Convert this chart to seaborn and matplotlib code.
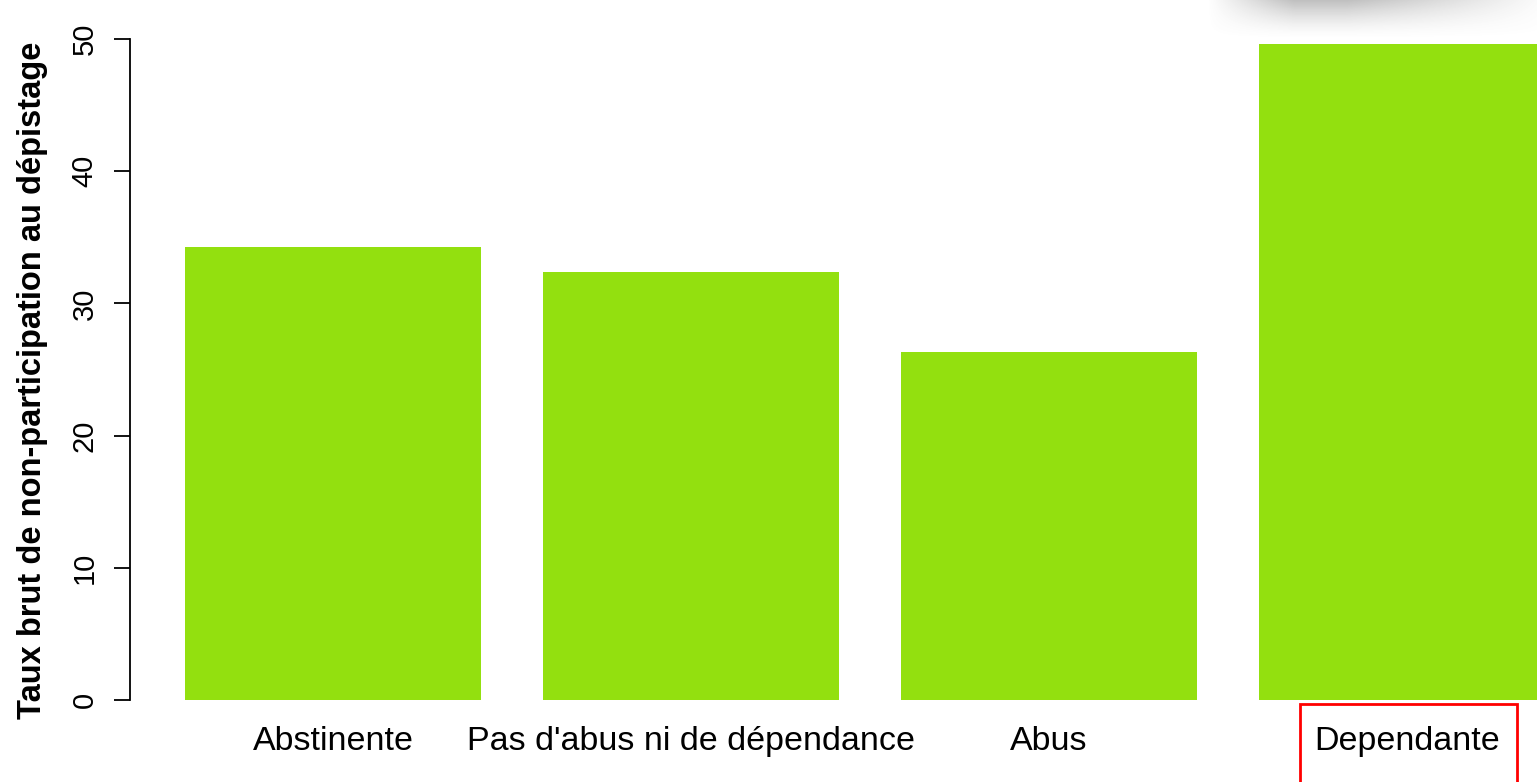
import numpy as np
import pandas as pd
import matplotlib
matplotlib.use("Agg")
import matplotlib.pyplot as plt
from matplotlib.patches import Rectangle
import seaborn as sns

categories = ["Abstinente", "Pas d'abus ni de dépendance", "Abus", "Dependante"]
values = [34.3, 32.4, 26.3, 49.6]
yticks = [0, 10, 20, 30, 40, 50]
title = "Consommation d'alcool"
ylabel = "Taux brut de non-participation au dépistage"

sns.set_theme(style="white")
plt.rcParams['font.family'] = ['Liberation Sans', 'DejaVu Sans']

W, H = 1537, 782
fig = plt.figure(figsize=(W / 100, H / 100), dpi=100)
fig.patch.set_facecolor("white")

# axes: left at x=130px, right at figure edge; bottom at y=700px (value 0), top at figure top
ax_left = 130 / W
ax_bottom = (H - 700) / H
ax = fig.add_axes([ax_left, ax_bottom, 1 - ax_left, 1 - ax_bottom])
ax.set_facecolor("none")

df = pd.DataFrame({"cat": categories, "val": values})
sns.barplot(data=df, x="cat", y="val", color="#93E00F", saturation=1,
            width=0.827, ax=ax, edgecolor="none")

px_per_unit = 661 / 50.0
ax.set_ylim(0, 700 / px_per_unit)
ax.set_xlim(-203 / 358, (1537 - 333) / 358)

for s in ["top", "right", "bottom"]:
    ax.spines[s].set_visible(False)
ax.spines["left"].set_bounds(0, 50)
ax.spines["left"].set_linewidth(1.3)
ax.spines["left"].set_color("black")
ax.set_yticks(yticks)
ax.set_yticklabels([str(t) for t in yticks], rotation=90, va="center", fontsize=21)
ax.tick_params(axis="y", direction="out", length=11.5, width=1.3, color="black",
               left=True, pad=11, labelcolor="black")
ax.tick_params(axis="x", bottom=False, labelsize=24.5, pad=13, labelcolor="black")
ax.set_xlabel("")
ax.set_ylabel("")
fig.text(33 / W, 1 - 380 / H, ylabel, rotation=90, ha="center", va="center",
         fontsize=23.5, fontweight="bold", color="black")

# title, cut off at the top as in reference
fig.text(870 / W, 1 + 0.3 / H, title, ha="center", va="baseline",
         fontsize=29, fontweight="bold", color="#333333")

# red box around "Dependante"
fig.patches.append(Rectangle((1300 / W, 0 - 0.01), 217 / W, (H - 704) / H + 0.01,
                             transform=fig.transFigure, fill=False,
                             edgecolor="red", linewidth=2))

# decorative grey shadow in top-right corner
sx0, sx1, sy0, sy1 = 1190, 1537, 0, 46
sax = fig.add_axes([sx0 / W, 1 - sy1 / H, (sx1 - sx0) / W, (sy1 - sy0) / H])
sax.axis("off")
xx = np.linspace(0, 1, 200)
yy = np.linspace(0, 1, 40)
X, Y = np.meshgrid(xx, yy)
fade_y = np.clip(1 - Y / 0.85, 0, 1) ** 1.5
fade_x = np.clip((X - 0.05) / 0.25, 0, 1) * np.clip((1.05 - X) / 0.6, 0, 1)
alpha = 0.45 * fade_y * fade_x
img = np.zeros((40, 200, 4))
img[..., :3] = 0.45
img[..., 3] = alpha
sax.imshow(img, aspect="auto", extent=(0, 1, 1, 0))
sax.set_xlim(0, 1)
sax.set_ylim(1, 0)

fig.savefig("out.png", dpi=100, facecolor="white")
